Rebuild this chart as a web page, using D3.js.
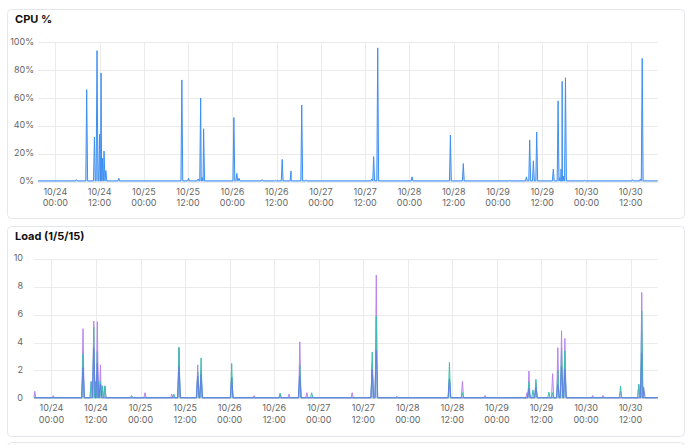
<!DOCTYPE html>
<html>
<head>
<meta charset="utf-8">
<script src="https://cdn.jsdelivr.net/npm/d3@7"></script>
<style>
  html, body { margin: 0; padding: 0; background: #fff; }
  svg { display: block; font-family: Inter, "Noto Sans", sans-serif; }
</style>
</head>
<body>
<svg id="chart"></svg>
<script>
// hours are counted from 10/24 00:00
const baseDate = new Date(2024, 9, 24, 0, 0);
const hourRange = [-4.7, 163.3];

// CPU % spikes: [hour, percent]
const cpuBase = 0.6;
const cpuSpikes = [
  [5.7, 1.5], [8.5, 66], [10.6, 32], [11.3, 94], [12.0, 34], [12.4, 78],
  [12.8, 17], [13.2, 22], [13.7, 8], [17.2, 2.5],
  [34.3, 73], [36.1, 2.5], [38.7, 2], [39.4, 60], [39.8, 3], [40.2, 38],
  [48.4, 46], [49.2, 6], [49.8, 2.5], [56.1, 1.5], [59.7, 1],
  [61.5, 16], [63.7, 2], [63.9, 7.7], [66.8, 55], [68.0, 1.2],
  [85.8, 2], [86.3, 18], [87.4, 96], [96.7, 3.5],
  [107.1, 33.5], [110.6, 13], [123.2, 1],
  [127.7, 3.5], [128.6, 30], [129.6, 15], [130.5, 35.6],
  [135.0, 9], [136.3, 58], [136.8, 3], [137.1, 9], [137.4, 72], [137.7, 4], [138.3, 74.6],
  [143.4, 1], [156.5, 1.5], [158.6, 2], [159.1, 88.5]
];

// Load averages spikes: [hour, load]
const loadBase = 0.04;
const load1Spikes = [
  [-4.5, 0.5], [0.5, 0.2], [8.5, 5.0], [10.7, 1.2], [11.4, 5.55], [12.35, 5.5],
  [13.2, 2.4], [13.7, 0.9], [14.4, 0.9], [25.2, 0.4], [32.4, 0.3],
  [34.35, 3.6], [39.4, 2.4], [40.3, 2.0], [48.55, 1.5], [54.6, 0.2],
  [61.6, 0.3], [64.0, 0.3], [66.9, 4.05], [68.8, 0.4], [81.0, 0.4],
  [86.4, 2.5], [87.5, 8.85], [93.0, 0.15], [107.2, 1.2], [110.7, 1.22],
  [116.8, 0.2], [128.1, 0.4], [128.6, 1.96], [130.5, 1.1], [135.0, 1.77],
  [136.4, 3.63], [137.4, 4.85], [138.3, 4.3], [145.8, 0.2], [148.6, 0.2],
  [153.3, 0.5], [158.2, 1.0], [159.0, 7.6]
];
const load5Spikes = [
  [8.5, 3.2], [10.7, 1.2], [11.4, 5.1], [11.9, 1.2], [12.35, 3.35], [12.7, 1.2],
  [13.2, 1.2], [13.7, 0.9], [14.4, 0.88], [21.6, 0.2], [33.0, 0.3],
  [34.35, 3.68], [39.4, 1.9], [40.3, 2.9], [48.55, 2.5], [61.6, 0.36],
  [66.9, 2.4], [70.1, 0.4], [86.4, 3.32], [87.5, 5.9], [107.2, 2.58],
  [110.7, 0.4], [128.6, 1.15], [129.7, 0.6], [130.5, 1.36], [134.0, 0.45],
  [135.0, 0.4], [136.4, 2.03], [137.4, 3.63], [138.3, 3.4], [153.3, 0.88],
  [158.2, 1.0], [159.0, 6.27]
];
const load15Spikes = [
  [8.5, 2.2], [11.4, 3.6], [12.35, 2.5], [13.2, 1.0], [34.35, 2.3],
  [39.4, 1.6], [40.3, 1.7], [48.55, 1.5], [66.9, 1.6], [86.4, 2.1],
  [87.5, 3.47], [107.2, 1.4], [128.6, 0.7], [130.5, 0.8], [136.4, 1.0],
  [137.4, 2.3], [138.3, 2.1], [159.0, 3.27], [159.5, 0.8]
];

const cpuTicks = [0, 20, 40, 60, 80, 100];
const loadTicks = [0, 2, 4, 6, 8, 10];

const width = 690;
const height = 445;
const toDate = (h) => new Date(baseDate.getTime() + h * 3600 * 1000);

const svg = d3.select("#chart").attr("width", width).attr("height", height);

// cards
const cards = [
  { y: 9.5, h: 209 },
  { y: 226.5, h: 210 },
  { y: 442.5, h: 40 }
];
svg.selectAll(".card")
  .data(cards)
  .join("rect")
  .attr("class", "card")
  .attr("x", 7.5)
  .attr("y", (d) => d.y)
  .attr("width", 677)
  .attr("height", (d) => d.h)
  .attr("rx", 4)
  .attr("fill", "#fff")
  .attr("stroke", "#e4e7eb");

// spike list -> line points (baseline on each side of a spike)
function buildSeries(spikes, base, halfWidth) {
  const pts = [[hourRange[0], base], [hourRange[1], base]];
  spikes.forEach(([h, v]) => {
    pts.push([h - halfWidth, base], [h, v], [h + halfWidth, base]);
  });
  return pts
    .filter((p) => p[0] >= hourRange[0] && p[0] <= hourRange[1])
    .sort((a, b) => a[0] - b[0]);
}

function drawChart(cfg) {
  const g = svg.append("g");

  const x = d3.scaleTime()
    .domain(hourRange.map(toDate))
    .range([cfg.left, cfg.right]);
  const y = d3.scaleLinear()
    .domain([0, cfg.yMax])
    .range([cfg.bottom, cfg.top]);

  g.append("text")
    .attr("x", 15)
    .attr("y", cfg.titleY)
    .attr("dominant-baseline", "middle")
    .attr("font-size", 11)
    .attr("font-weight", 700)
    .attr("fill", "#111")
    .text(cfg.title);

  // grid
  const xTicks = x.ticks(d3.timeHour.every(12));
  g.append("g")
    .selectAll("line")
    .data(xTicks)
    .join("line")
    .attr("x1", (d) => Math.round(x(d)) + 0.5)
    .attr("x2", (d) => Math.round(x(d)) + 0.5)
    .attr("y1", cfg.top)
    .attr("y2", cfg.bottom)
    .attr("stroke", "#ebebeb");
  g.append("g")
    .selectAll("line")
    .data(cfg.yTicks)
    .join("line")
    .attr("x1", cfg.left)
    .attr("x2", cfg.right)
    .attr("y1", (d) => Math.round(y(d)) + 0.5)
    .attr("y2", (d) => Math.round(y(d)) + 0.5)
    .attr("stroke", "#ebebeb");

  // y labels
  g.append("g")
    .selectAll("text")
    .data(cfg.yTicks)
    .join("text")
    .attr("x", cfg.yLabelX)
    .attr("y", (d) => y(d))
    .attr("text-anchor", "end")
    .attr("dominant-baseline", "middle")
    .attr("font-size", 9)
    .attr("fill", "#666")
    .text(cfg.yFormat);

  // x labels, two lines
  const fmtDay = d3.timeFormat("%m/%d");
  const fmtTime = d3.timeFormat("%H:%M");
  const xl = g.append("g")
    .selectAll("g")
    .data(xTicks)
    .join("g")
    .attr("transform", (d) => `translate(${x(d)},0)`);
  xl.append("text")
    .attr("y", cfg.bottom + 10.5)
    .attr("text-anchor", "middle")
    .attr("dominant-baseline", "middle")
    .attr("font-size", 9)
    .attr("fill", "#666")
    .text(fmtDay);
  xl.append("text")
    .attr("y", cfg.bottom + 22)
    .attr("text-anchor", "middle")
    .attr("dominant-baseline", "middle")
    .attr("font-size", 9)
    .attr("fill", "#666")
    .text(fmtTime);

  // series
  const area = d3.area()
    .x((d) => x(toDate(d[0])))
    .y0(y(0))
    .y1((d) => y(d[1]));
  const line = d3.line()
    .x((d) => x(toDate(d[0])))
    .y((d) => y(d[1]));

  cfg.series.forEach((s) => {
    const pts = buildSeries(s.spikes, s.base, s.halfWidth);
    g.append("path")
      .datum(pts)
      .attr("d", area)
      .attr("fill", s.color)
      .attr("fill-opacity", s.fillOpacity);
    g.append("path")
      .datum(pts)
      .attr("d", line)
      .attr("fill", "none")
      .attr("stroke", s.color)
      .attr("stroke-width", 1)
      .attr("stroke-linejoin", "round");
  });
}

drawChart({
  title: "CPU %",
  titleY: 20,
  left: 38,
  right: 657.7,
  top: 42.3,
  bottom: 181.7,
  yMax: 100,
  yTicks: cpuTicks,
  yLabelX: 34,
  yFormat: (d) => `${d}%`,
  series: [
    { spikes: cpuSpikes, base: cpuBase, halfWidth: 0.25, color: "#3d8ff2", fillOpacity: 0.3 }
  ]
});

drawChart({
  title: "Load (1/5/15)",
  titleY: 236.7,
  left: 34,
  right: 657.7,
  top: 259,
  bottom: 398.3,
  yMax: 10,
  yTicks: loadTicks,
  yLabelX: 23,
  yFormat: (d) => `${d}`,
  series: [
    { spikes: load1Spikes, base: loadBase, halfWidth: 0.3, color: "#b983f0", fillOpacity: 0.15 },
    { spikes: load5Spikes, base: loadBase, halfWidth: 0.3, color: "#3cbfb0", fillOpacity: 0.15 },
    { spikes: load15Spikes, base: loadBase, halfWidth: 0.4, color: "#6480e6", fillOpacity: 0.15 }
  ]
});
</script>
</body>
</html>
